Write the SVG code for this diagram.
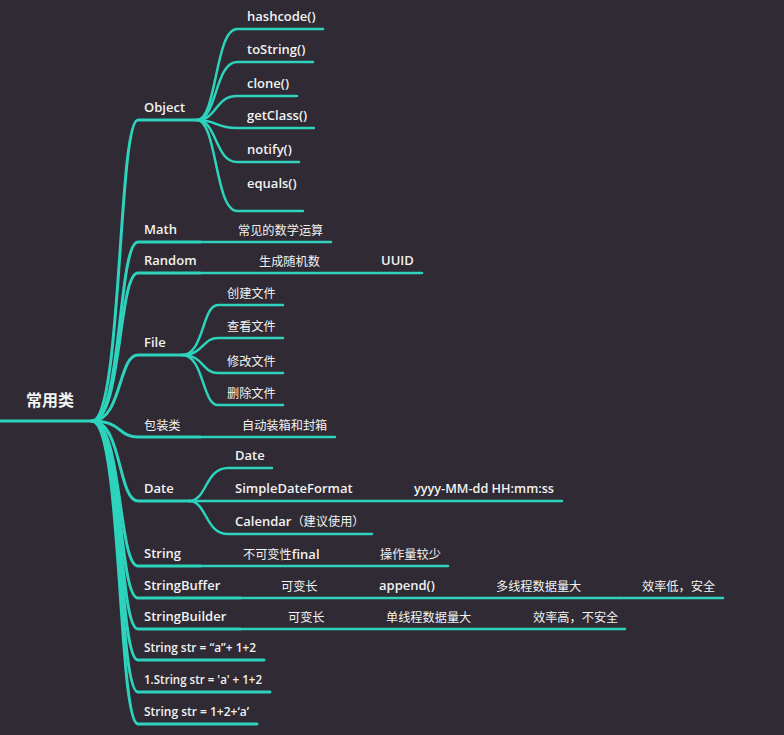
<svg xmlns="http://www.w3.org/2000/svg" width="784" height="735" viewBox="0 0 784 735">
<style>
.bg{fill:#2f2a33}
.l1{fill:none;stroke:#2dd3bd;stroke-width:3;stroke-linecap:round}
.l2{fill:none;stroke:#2dd3bd;stroke-width:2.5;stroke-linecap:round}
text{fill:#f2f2f2;font-family:"Open Sans","Noto Sans CJK SC",sans-serif;font-size:13px;font-weight:600}
.cn{font-family:"Noto Sans CJK SC","Noto Sans",sans-serif;font-weight:400;font-size:12.2px}
.root{font-family:"Noto Sans CJK SC",sans-serif;font-weight:700;font-size:16px}
</style>
<rect class="bg" x="0" y="0" width="784" height="735"/>
<g id="connectors">
<path class="l1" d="M0 421 H92"/>
<path class="l1" d="M92 421 C122 421 118 120 138 120 H197"/>
<path class="l1" d="M92 421 C122 421 118 242 138 242 H200"/>
<path class="l1" d="M92 421 C122 421 118 273 138 273 H200"/>
<path class="l1" d="M92 421 C122 421 118 355 138 355 H182"/>
<path class="l1" d="M92 421 C122 421 118 437 138 437 H200"/>
<path class="l1" d="M92 421 C122 421 118 501 138 501 H189"/>
<path class="l1" d="M92 421 C122 421 118 566 138 566 H200"/>
<path class="l1" d="M92 421 C122 421 118 598 138 598 H240"/>
<path class="l1" d="M92 421 C122 421 118 629 138 629 H240"/>
<path class="l1" d="M92 421 C122 421 118 660 138 660 H264"/>
<path class="l1" d="M92 421 C122 421 118 692 138 692 H270"/>
<path class="l1" d="M92 421 C122 421 118 724 138 724 H257"/>
<path class="l2" d="M197 120 C217 120 215 29 237 29 H323"/>
<path class="l2" d="M197 120 C217 120 215 62 237 62 H313"/>
<path class="l2" d="M197 120 C217 120 215 96 237 96 H297"/>
<path class="l2" d="M197 120 C217 120 215 128 237 128 H314"/>
<path class="l2" d="M197 120 C217 120 215 162 237 162 H299"/>
<path class="l2" d="M197 120 C217 120 215 211 237 211 H303"/>
<path class="l2" d="M200 242 H331"/>
<path class="l2" d="M200 273 H340"/>
<path class="l2" d="M340 273 H422"/>
<path class="l2" d="M182 355 C204 355 202 305 218 305 H283"/>
<path class="l2" d="M182 355 C204 355 202 338 218 338 H283"/>
<path class="l2" d="M182 355 C204 355 202 373 218 373 H283"/>
<path class="l2" d="M182 355 C204 355 202 405 218 405 H283"/>
<path class="l2" d="M200 437 H335"/>
<path class="l2" d="M189 501 C207 501 205 468 228 468 H272"/>
<path class="l2" d="M189 501 H390"/>
<path class="l2" d="M390 501 H562"/>
<path class="l2" d="M189 501 C207 501 205 534 228 534 H372"/>
<path class="l2" d="M200 566 H360"/>
<path class="l2" d="M360 566 H448"/>
<path class="l2" d="M240 598 H360"/>
<path class="l2" d="M360 598 H470"/>
<path class="l2" d="M470 598 H620"/>
<path class="l2" d="M620 598 H723"/>
<path class="l2" d="M240 629 H370"/>
<path class="l2" d="M370 629 H510"/>
<path class="l2" d="M510 629 H625"/>
</g>
<g id="root"><text class="root" x="26" y="406">常用类</text></g>
<g id="object"><text x="144" y="112">Object</text></g>
<g id="hashcode"><text x="247" y="21">hashcode()</text></g>
<g id="tostring"><text x="247" y="54">toString()</text></g>
<g id="clone"><text x="247" y="88">clone()</text></g>
<g id="getclass"><text x="247" y="120">getClass()</text></g>
<g id="notify"><text x="247" y="154">notify()</text></g>
<g id="equals"><text x="247" y="188">equals()</text></g>
<g id="math"><text x="144" y="234">Math</text></g>
<g id="math-op"><text class="cn" x="238" y="235">常见的数学运算</text></g>
<g id="random"><text x="144" y="265">Random</text></g>
<g id="random-gen"><text class="cn" x="259" y="266">生成随机数</text></g>
<g id="uuid"><text x="381" y="265">UUID</text></g>
<g id="file"><text x="144" y="347">File</text></g>
<g id="file-create"><text class="cn" x="227" y="298">创建文件</text></g>
<g id="file-view"><text class="cn" x="227" y="331">查看文件</text></g>
<g id="file-modify"><text class="cn" x="227" y="366">修改文件</text></g>
<g id="file-delete"><text class="cn" x="227" y="398">删除文件</text></g>
<g id="wrapper"><text class="cn" x="144" y="430">包装类</text></g>
<g id="boxing"><text class="cn" x="242" y="430">自动装箱和封箱</text></g>
<g id="date"><text x="144" y="493">Date</text></g>
<g id="date-date"><text x="235" y="460">Date</text></g>
<g id="sdf"><text x="235" y="493">SimpleDateFormat</text></g>
<g id="sdf-fmt"><text x="414" y="493" textLength="140" lengthAdjust="spacingAndGlyphs">yyyy-MM-dd HH:mm:ss</text></g>
<g id="calendar"><text x="235" y="526">Calendar<tspan class="cn">（建议使用）</tspan></text></g>
<g id="string"><text x="144" y="558">String</text></g>
<g id="string-final"><text class="cn" x="243" y="559">不可变性<tspan font-family="Open Sans" font-weight="600" font-size="13">final</tspan></text></g>
<g id="string-less"><text class="cn" x="380" y="559">操作量较少</text></g>
<g id="stringbuffer"><text x="144" y="590">StringBuffer</text></g>
<g id="sb-var"><text class="cn" x="281" y="591">可变长</text></g>
<g id="sb-append"><text x="379" y="590">append()</text></g>
<g id="sb-multi"><text class="cn" x="496" y="591">多线程数据量大</text></g>
<g id="sb-safe"><text class="cn" x="642" y="591">效率低，安全</text></g>
<g id="stringbuilder"><text x="144" y="621">StringBuilder</text></g>
<g id="sbd-var"><text class="cn" x="288" y="622">可变长</text></g>
<g id="sbd-single"><text class="cn" x="386" y="622">单线程数据量大</text></g>
<g id="sbd-unsafe"><text class="cn" x="533" y="622">效率高，不安全</text></g>
<g id="str1"><text x="144" y="652" textLength="112" lengthAdjust="spacingAndGlyphs">String str = “a”+ 1+2</text></g>
<g id="str2"><text x="144" y="684" textLength="118" lengthAdjust="spacingAndGlyphs">1.String str = 'a' + 1+2</text></g>
<g id="str3"><text x="144" y="716" textLength="105" lengthAdjust="spacingAndGlyphs">String str = 1+2+‘a’</text></g>
</svg>
